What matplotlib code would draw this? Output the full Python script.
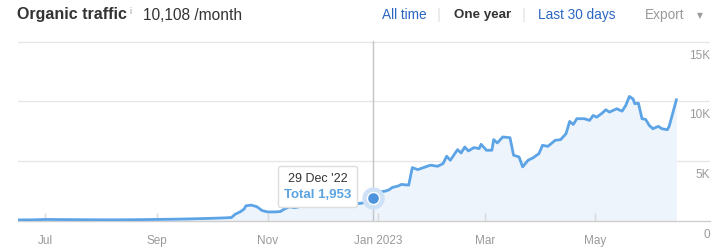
import matplotlib
matplotlib.use("Agg")
import matplotlib.pyplot as plt
import pandas as pd
from matplotlib.offsetbox import TextArea, VPacker, AnnotationBbox

plt.rcParams['font.family'] = ['Liberation Sans', 'DejaVu Sans']

# ---------------- data ----------------
dates = [
    "2022-06-16", "2022-06-25", "2022-07-01", "2022-07-10", "2022-07-20", "2022-07-31",
    "2022-08-10", "2022-08-20", "2022-08-31", "2022-09-10", "2022-09-20", "2022-09-30",
    "2022-10-08", "2022-10-12", "2022-10-14", "2022-10-17", "2022-10-19", "2022-10-20",
    "2022-10-23", "2022-10-26", "2022-10-29", "2022-11-01", "2022-11-05", "2022-11-08",
    "2022-11-10", "2022-11-13", "2022-11-16", "2022-11-20", "2022-11-25", "2022-12-01",
    "2022-12-06", "2022-12-11", "2022-12-16", "2022-12-22", "2022-12-25", "2022-12-29",
    "2023-01-02", "2023-01-05", "2023-01-07", "2023-01-09", "2023-01-12", "2023-01-14",
    "2023-01-18", "2023-01-20", "2023-01-23", "2023-01-30", "2023-02-03", "2023-02-06",
    "2023-02-08", "2023-02-10", "2023-02-14", "2023-02-16", "2023-02-18", "2023-02-20",
    "2023-02-23", "2023-02-26", "2023-02-27", "2023-03-02", "2023-03-05", "2023-03-06",
    "2023-03-08", "2023-03-11", "2023-03-15", "2023-03-17", "2023-03-20", "2023-03-22",
    "2023-03-25", "2023-03-28", "2023-03-31", "2023-04-02", "2023-04-05", "2023-04-09",
    "2023-04-12", "2023-04-15", "2023-04-17", "2023-04-19", "2023-04-21", "2023-04-25",
    "2023-04-28", "2023-04-30", "2023-05-02", "2023-05-05", "2023-05-07", "2023-05-09",
    "2023-05-13", "2023-05-16", "2023-05-18", "2023-05-20", "2023-05-22", "2023-05-23",
    "2023-05-25", "2023-05-27", "2023-05-29", "2023-05-31", "2023-06-02", "2023-06-05",
    "2023-06-07", "2023-06-10", "2023-06-11", "2023-06-15",
]
traffic = [
    90, 100, 130, 120, 110, 100,
    100, 110, 130, 150, 180, 220,
    260, 290, 560, 780, 1000, 1270,
    1330, 1200, 870, 760, 760, 790,
    980, 1190, 1110, 1250, 1380, 1350,
    1420, 1380, 1450, 1470, 1550, 1953,
    2440, 2500, 2600, 2810, 2920, 3060,
    3000, 4470, 4300, 4670, 4580, 4800,
    5420, 5080, 5970, 5690, 6190, 5860,
    6140, 6060, 6420, 5920, 5920, 6810,
    6530, 7030, 6970, 5500, 5360, 4530,
    5080, 5310, 5640, 6330, 6250, 6750,
    6810, 7310, 8330, 8080, 8560, 8560,
    8420, 8830, 8690, 9030, 9310, 9110,
    9390, 9190, 9670, 10420, 10220, 9810,
    9860, 8560, 8500, 8000, 7720, 7920,
    7720, 7640, 7920, 10140,
]
xtick_dates = ["2022-07-01", "2022-09-01", "2022-11-01", "2023-01-01", "2023-03-01", "2023-05-01"]
xtick_labels = ["Jul", "Sep", "Nov", "Jan 2023", "Mar", "May"]
ytick_values = [0, 5000, 10000, 15000]
ytick_labels = ["0", "5K", "10K", "15K"]
hover_date = "2022-12-29"
hover_value = 1953
hover_title = "29 Dec '22"
hover_text = "Total 1,953"
x_range = ["2022-06-16", "2023-07-03 14:00"]

# ---------------- figure ----------------
W, H = 724, 250
fig = plt.figure(figsize=(W / 100, H / 100), dpi=100)
fig.patch.set_facecolor("white")
ax = fig.add_axes([18 / W, 29 / H, (710 - 18) / W, (221 - 41) / H])

d = pd.to_datetime(dates)
line_c = "#5ca4e6"
ax.fill_between(d, traffic, 0, color="#eef4fc", lw=0, zorder=1)
ax.plot(d, traffic, color=line_c, lw=2, zorder=3, solid_joinstyle="round")

ax.set_xlim(pd.to_datetime(x_range[0]), pd.to_datetime(x_range[1]))
ax.set_ylim(0, 15000 * 1.004)

for s in ["top", "left", "right"]:
    ax.spines[s].set_visible(False)
ax.spines["bottom"].set_color("#cfcfcf")
ax.spines["bottom"].set_linewidth(1)

for v in ytick_values[1:]:
    ax.axhline(v, color="#e6e6e6", lw=1, zorder=0)
ax.set_yticks([])

for v, lab in zip(ytick_values, ytick_labels):
    ax.annotate(lab, xy=(1, v), xycoords=("axes fraction", "data"),
                xytext=(0, -14), textcoords="offset pixels",
                ha="right", va="center", fontsize=8.5, color="#9a9a9a")

ax.set_xticks(pd.to_datetime(xtick_dates))
ax.set_xticklabels(xtick_labels)
ax.tick_params(axis="x", direction="in", length=6, width=1, color="#d8d8d8",
               pad=10, labelsize=8.5, labelcolor="#9a9a9a")

# hover cursor
hd = pd.to_datetime(hover_date)
ax.axvline(hd, color="#c4c4c4", lw=1, zorder=2, ymax=1.0)
ax.scatter([hd], [hover_value], s=260, color="#cfe1f6", zorder=4, lw=0)
ax.scatter([hd], [hover_value], s=75, color="#4d94dc", zorder=5,
           edgecolors="white", linewidths=1)

t1 = TextArea(hover_title, textprops=dict(fontsize=9, color="#333333"))
t2 = TextArea(hover_text, textprops=dict(fontsize=9.5, color="#5ba3e0", fontweight="bold"))
pack = VPacker(children=[t1, t2], align="center", pad=0, sep=3)
ab = AnnotationBbox(pack, (hd, hover_value), xybox=(-55, 11),
                    xycoords="data", boxcoords="offset pixels",
                    bboxprops=dict(boxstyle="round,pad=0.45,rounding_size=0.2",
                                   fc="white", ec="#dddddd", lw=1),
                    frameon=True, zorder=6)
ax.add_artist(ab)

# header
def fx(px):
    return px / W

def fy(py):
    return 1 - py / H

fig.text(fx(17), fy(15), "Organic traffic", fontsize=11.5, fontweight="bold",
         color="#333333", va="center", ha="left")
fig.text(fx(129), fy(11), "i", fontsize=6.5, color="#999999", va="center", ha="left")
fig.text(fx(143), fy(15), "10,108 /month", fontsize=11.2, color="#333333",
         va="center", ha="left")

link_c = "#2a66c2"
fig.text(fx(382), fy(15), "All time", fontsize=9.8, color=link_c, va="center", ha="left")
fig.text(fx(439), fy(15), "|", fontsize=11, color="#e2e2e2", va="center", ha="center")
fig.text(fx(453.5), fy(15), "One year", fontsize=9.6, color="#333333",
         fontweight="bold", va="center", ha="left")
fig.text(fx(524), fy(15), "|", fontsize=11, color="#e2e2e2", va="center", ha="center")
fig.text(fx(538.5), fy(15), "Last 30 days", fontsize=9.8, color=link_c, va="center", ha="left")
fig.text(fx(645), fy(15), "Export", fontsize=9.8, color="#9a9a9a", va="center", ha="left")
fig.text(fx(700), fy(16), "\u25BC", fontsize=5.5, color="#9a9a9a", va="center",
         ha="center", family="DejaVu Sans")

fig.savefig("out.png", dpi=100, facecolor="white")
